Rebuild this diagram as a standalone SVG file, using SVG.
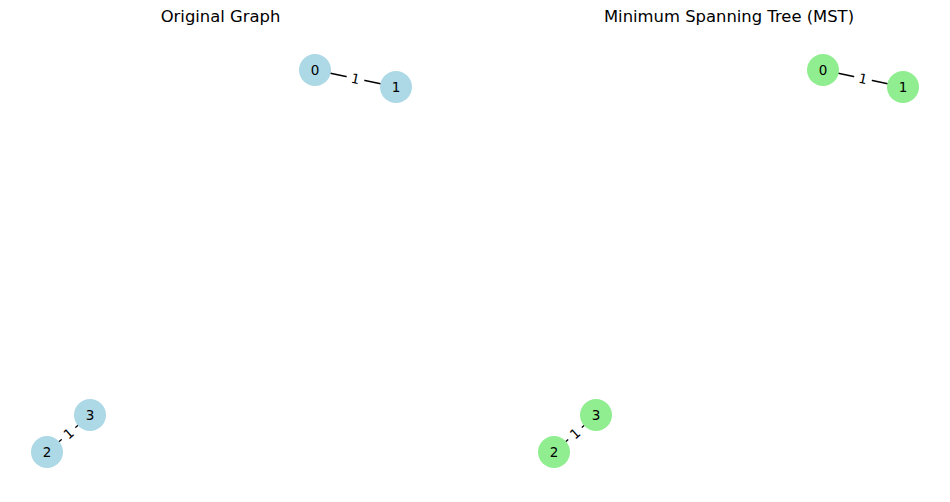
<svg xmlns="http://www.w3.org/2000/svg" width="950" height="502" viewBox="0 0 950 502">
<style>
.t{font-family:"DejaVu Sans",sans-serif;font-size:16.4px;fill:#000;text-anchor:middle}
.nl{font-family:"DejaVu Sans",sans-serif;font-size:13.5px;fill:#000;text-anchor:middle;dominant-baseline:central}
.el{font-family:"DejaVu Sans",sans-serif;font-size:13.5px;fill:#000;text-anchor:middle;dominant-baseline:central}
.e{stroke:#000;stroke-width:1.3;fill:none}
.b{fill:#add8e6}
.g{fill:#90ee90}
.lb{fill:#fff}
</style>
<rect width="950" height="502" fill="#fff"/>
<text class="t" x="220.5" y="22">Original Graph</text>
<text class="t" x="729" y="22">Minimum Spanning Tree (MST)</text>
<g id="connectors">
<line class="e" x1="315" y1="70" x2="396" y2="87"/>
<line class="e" x1="47" y1="452" x2="90" y2="415"/>
<line class="e" x1="823" y1="70" x2="903" y2="87"/>
<line class="e" x1="554" y1="452" x2="596" y2="415"/>
<g transform="translate(355.5,78.5) rotate(11.9)"><rect class="lb" x="-9" y="-8" width="18" height="16" rx="3"/><text class="el" x="0" y="0">1</text></g>
<g transform="translate(68.5,433.5) rotate(-40.7)"><rect class="lb" x="-9" y="-8" width="18" height="16" rx="3"/><text class="el" x="0" y="0">1</text></g>
<g transform="translate(863,78.5) rotate(12)"><rect class="lb" x="-9" y="-8" width="18" height="16" rx="3"/><text class="el" x="0" y="0">1</text></g>
<g transform="translate(575,433.5) rotate(-41.4)"><rect class="lb" x="-9" y="-8" width="18" height="16" rx="3"/><text class="el" x="0" y="0">1</text></g>
</g>
<g id="g-node0"><circle class="b" cx="315" cy="70" r="16"/><text class="nl" x="315" y="70">0</text></g>
<g id="g-node1"><circle class="b" cx="396" cy="87" r="16"/><text class="nl" x="396" y="87">1</text></g>
<g id="g-node2"><circle class="b" cx="47" cy="452" r="16"/><text class="nl" x="47" y="452">2</text></g>
<g id="g-node3"><circle class="b" cx="90" cy="415" r="16"/><text class="nl" x="90" y="415">3</text></g>
<g id="m-node0"><circle class="g" cx="823" cy="70" r="16"/><text class="nl" x="823" y="70">0</text></g>
<g id="m-node1"><circle class="g" cx="903" cy="87" r="16"/><text class="nl" x="903" y="87">1</text></g>
<g id="m-node2"><circle class="g" cx="554" cy="452" r="16"/><text class="nl" x="554" y="452">2</text></g>
<g id="m-node3"><circle class="g" cx="596" cy="415" r="16"/><text class="nl" x="596" y="415">3</text></g>
</svg>
